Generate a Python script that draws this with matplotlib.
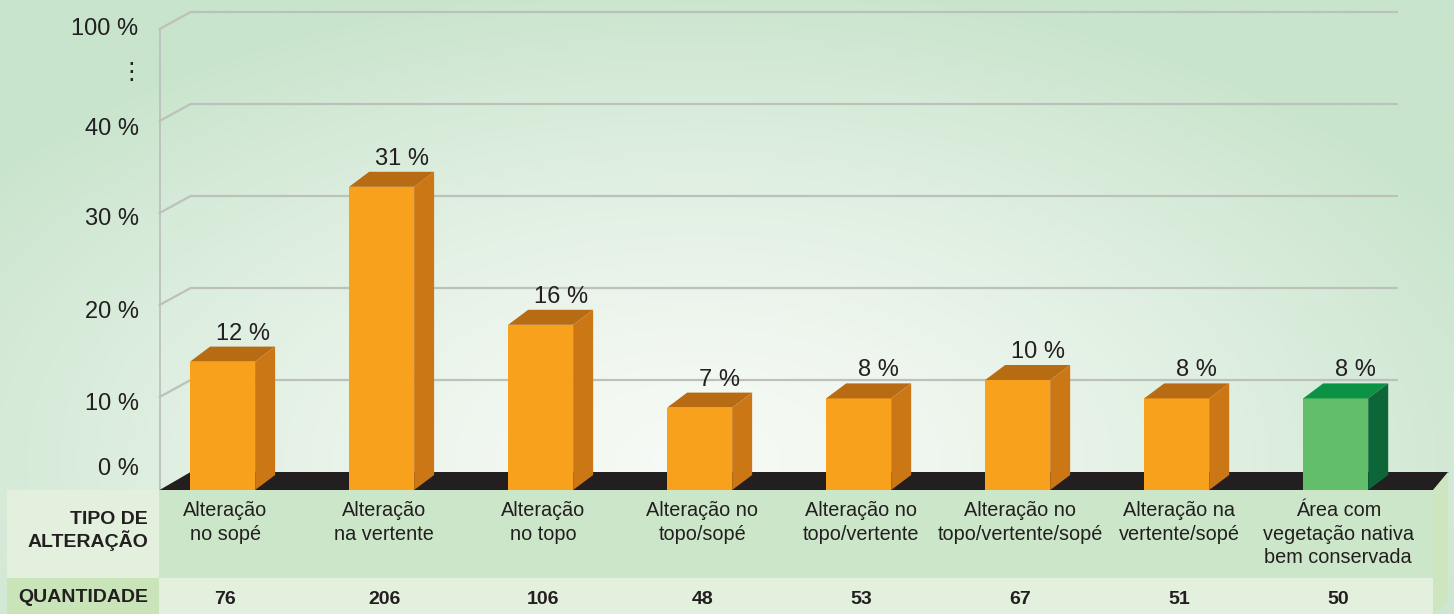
import matplotlib.pyplot as plt
import numpy as np
from matplotlib.patches import Polygon, Rectangle
from matplotlib.colors import to_rgb

plt.rcParams['font.family'] = ['Liberation Sans', 'DejaVu Sans']

# data
categories = ['Alteração\nno sopé', 'Alteração\nna vertente', 'Alteração\nno topo',
              'Alteração no\ntopo/sopé', 'Alteração no\ntopo/vertente',
              'Alteração no\ntopo/vertente/sopé', 'Alteração na\nvertente/sopé',
              'Área com\nvegetação nativa\nbem conservada']
percent = [12, 31, 16, 7, 8, 10, 8, 8]
quantity = [76, 206, 106, 48, 53, 67, 51, 50]
tick_values = [0, 10, 20, 30, 40, 50]          # 50 stands for the broken "100 %"
tick_labels = ['0 %', '10 %', '20 %', '30 %', '40 %', '100 %']

# figure size in pixels
W, H = 1454, 614
fig = plt.figure(figsize=(W / 100, H / 100), dpi=100)

# background gradient
bg = fig.add_axes([0, 0, 1, 1], zorder=-10)
yy, xx = np.mgrid[0:1:300j, 0:1:600j]
r = np.clip(np.sqrt(((xx - 0.48) / 0.62) ** 2 + ((yy - 0.75) / 0.8) ** 2), 0, 1)
c_in, c_out = np.array(to_rgb('#f7faf6')), np.array(to_rgb('#c8e4cc'))
img = c_in + (c_out - c_in) * r[..., None] ** 1.3
bg.imshow(img, extent=[0, 1, 0, 1], aspect='auto', origin='upper')
bg.axis('off')

# main axes: back plane, 9.2 px per unit in y, 159 px per category
SX, SY = 159.0, 9.2
ax = fig.add_axes([159 / W, 142 / H, 1288 / W, 460 / H])
ax.set_xlim(-0.4, 7.7)
ax.set_ylim(0, 50)
ax.axis('off')


def px_x(p):
    return (p - 222) / SX


floor_dy = 18 / SY
wall_left, wall_back = px_x(159), px_x(190)
grid_end = px_x(1396)
grid_col = '#bcc1bc'

# floor slab
ax.add_patch(Polygon([(wall_left, -floor_dy), (px_x(1433), -floor_dy),
                      (px_x(1448), 0), (wall_back, 0)],
                     closed=True, fc='#231f20', ec='none', clip_on=False, zorder=1))

# left wall edge and grid lines
ax.plot([wall_left, wall_left], [-floor_dy, 50 - 17 / SY], color=grid_col, lw=1.3,
        clip_on=False, zorder=0.5)
for v in tick_values[1:]:
    ax.plot([wall_left, wall_back, grid_end], [v - 17 / SY, v, v], color=grid_col,
            lw=1.6, clip_on=False, zorder=0.5, solid_joinstyle='miter')

# tick labels (shifted to the front of the box)
shift_px = [-3, 24, 24, 23, 25, 17]
for v, lab, s in zip(tick_values, tick_labels, shift_px):
    ax.text(px_x(138), v - s / SY, lab, ha='right', va='center', fontsize=17,
            color='#231f20', clip_on=False)
ax.text(px_x(131), 45 - 14 / SY, '⋮', ha='center', va='center', fontsize=17,
        color='#231f20', family=['DejaVu Sans'], clip_on=False)

# 3d bars
w = 65 / SX
ddx, ddy = 20 / SX, 15 / SY
orange = ('#f7a11d', '#b76b12', '#cb7716')
green = ('#63be6b', '#0c9245', '#0d6637')
for i, v in enumerate(percent):
    front, top, side = green if i == len(percent) - 1 else orange
    x0, x1 = i - w / 2, i + w / 2
    ax.add_patch(Rectangle((x0, -floor_dy), w, v + floor_dy, fc=front, ec='none',
                           clip_on=False, zorder=3))
    ax.add_patch(Polygon([(x0, v), (x1, v), (x1 + ddx, v + ddy), (x0 + ddx, v + ddy)],
                         fc=top, ec='none', clip_on=False, zorder=3))
    ax.add_patch(Polygon([(x1, -floor_dy), (x1, v), (x1 + ddx, v + ddy),
                          (x1 + ddx, -floor_dy + ddy)],
                         fc=side, ec='none', clip_on=False, zorder=3))
    ax.text(i + ddx, v + ddy + 7 / SY, f'{v} %', ha='center', va='baseline',
            fontsize=17, color='#231f20', zorder=4)

# table below the chart
tax = fig.add_axes([7 / W, 0, 1443 / W, 124 / H])
tax.set_xlim(px_x(7), px_x(1450))
tax.set_ylim(0, 124)
tax.axis('off')
light, mid = '#e4f0de', '#cbe6c8'
hx0, hx1, dx1 = px_x(7), px_x(159), px_x(1433)
tax.add_patch(Rectangle((hx0, 36), hx1 - hx0, 88, fc=light, ec='none'))
tax.add_patch(Rectangle((hx0, 0), hx1 - hx0, 36, fc='#c9e4b8', ec='none'))
tax.add_patch(Rectangle((hx1, 36), dx1 - hx1, 88, fc=mid, ec='none'))
tax.add_patch(Rectangle((hx1, 0), dx1 - hx1, 36, fc=light, ec='none'))
tax.add_patch(Polygon([(dx1, 124), (px_x(1448), 142), (px_x(1448), 12), (dx1, 0)],
                      fc='#cde6bf', ec='none', clip_on=False))

tax.text(px_x(148), 83, 'TIPO DE\nALTERAÇÃO', ha='right', va='center', fontsize=14,
         fontweight='bold', color='#231f20', linespacing=1.15)
tax.text(px_x(148), 16, 'QUANTIDADE', ha='right', va='center', fontsize=14,
         fontweight='bold', color='#231f20')
for i, (cat, q) in enumerate(zip(categories, quantity)):
    tax.text(i + 0.02, 113, cat, ha='center', va='top', fontsize=14.3,
             color='#231f20', linespacing=1.3)
    tax.text(i + 0.02, 14, str(q), ha='center', va='center', fontsize=14,
             fontweight='bold', color='#231f20')

fig.savefig('out.png', dpi=100)
